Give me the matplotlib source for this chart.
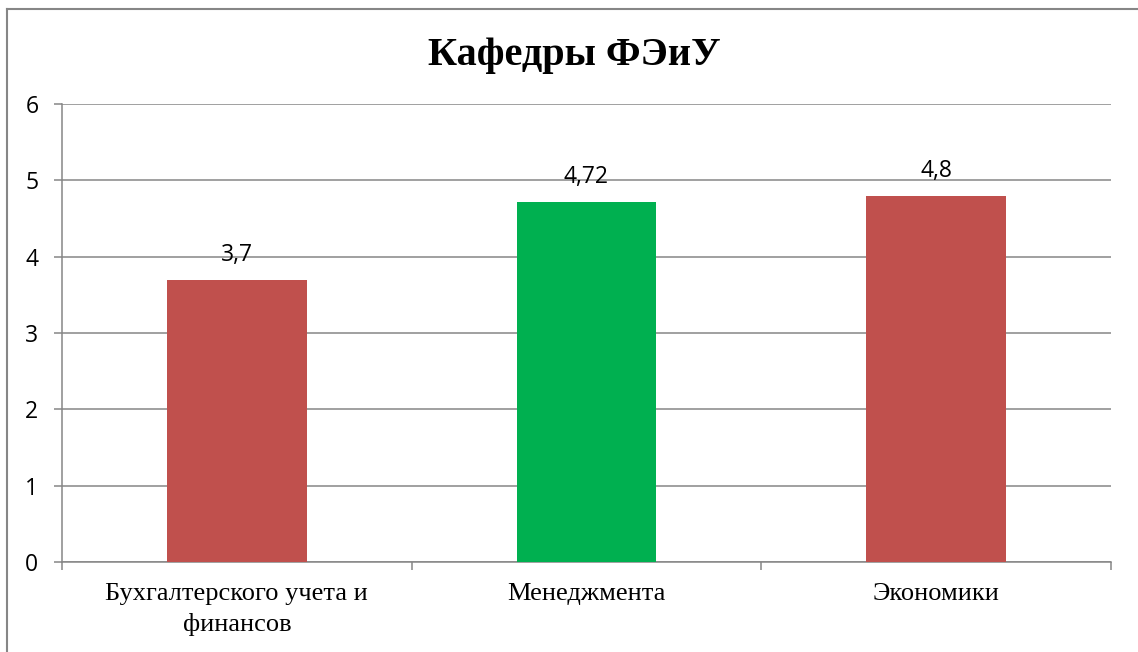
import matplotlib.pyplot as plt
from matplotlib.lines import Line2D

categories = ["Бухгалтерского учета и\nфинансов", "Менеджмента", "Экономики"]
values = [3.7, 4.72, 4.8]
value_labels = ["3,7", "4,72", "4,8"]
bar_colors = ["#C0504D", "#00B050", "#C0504D"]

fig = plt.figure(figsize=(11.38, 6.52), dpi=100)
ax = fig.add_axes([62 / 1138, 1 - 562 / 652, (1111 - 62) / 1138, (562 - 104) / 652])

# frame: only top and left edges are visible in the picture
fig.lines.append(Line2D([6.5 / 1138, 1], [1 - 8.5 / 652, 1 - 8.5 / 652],
                        transform=fig.transFigure, color="#868686", linewidth=1.5))
fig.lines.append(Line2D([6.5 / 1138, 6.5 / 1138], [0, 1 - 8.5 / 652],
                        transform=fig.transFigure, color="#868686", linewidth=1.5))

pos = [i + 0.5 for i in range(len(values))]
ax.bar(pos, values, width=0.4, color=bar_colors, zorder=3)

for x, v, lab in zip(pos, values, value_labels):
    ax.annotate(lab, (x, v), xytext=(0, 9), textcoords="offset points",
                ha="center", va="bottom", fontsize=16.5, family="Open Sans")

ax.set_xlim(0, 3)
ax.set_ylim(0, 6)
ax.set_yticks(range(7))
ax.set_yticklabels([str(i) for i in range(7)], family="Open Sans", fontsize=16.5)
ax.yaxis.grid(True, color="#868686", linewidth=1.1, zorder=0)

ax.set_xticks([0, 1, 2, 3])
ax.set_xticklabels([])
ax.set_xticks(pos, minor=True)
ax.set_xticklabels(categories, minor=True, family="Liberation Serif", fontsize=19,
                   linespacing=1.45)
ax.tick_params(axis="x", which="minor", length=0, pad=15)
ax.tick_params(axis="x", which="major", length=6, color="#868686", width=1.1)
ax.tick_params(axis="y", length=6, color="#868686", width=1.1, pad=11)

for s in ["top", "right"]:
    ax.spines[s].set_visible(False)
for s in ["left", "bottom"]:
    ax.spines[s].set_color("#868686")
    ax.spines[s].set_linewidth(1.1)

fig.text(0.505, 1 - 55 / 652, "Кафедры ФЭиУ", ha="center", va="center",
         family="Liberation Serif", fontweight="bold", fontsize=29)

fig.savefig("out.png", dpi=100)
